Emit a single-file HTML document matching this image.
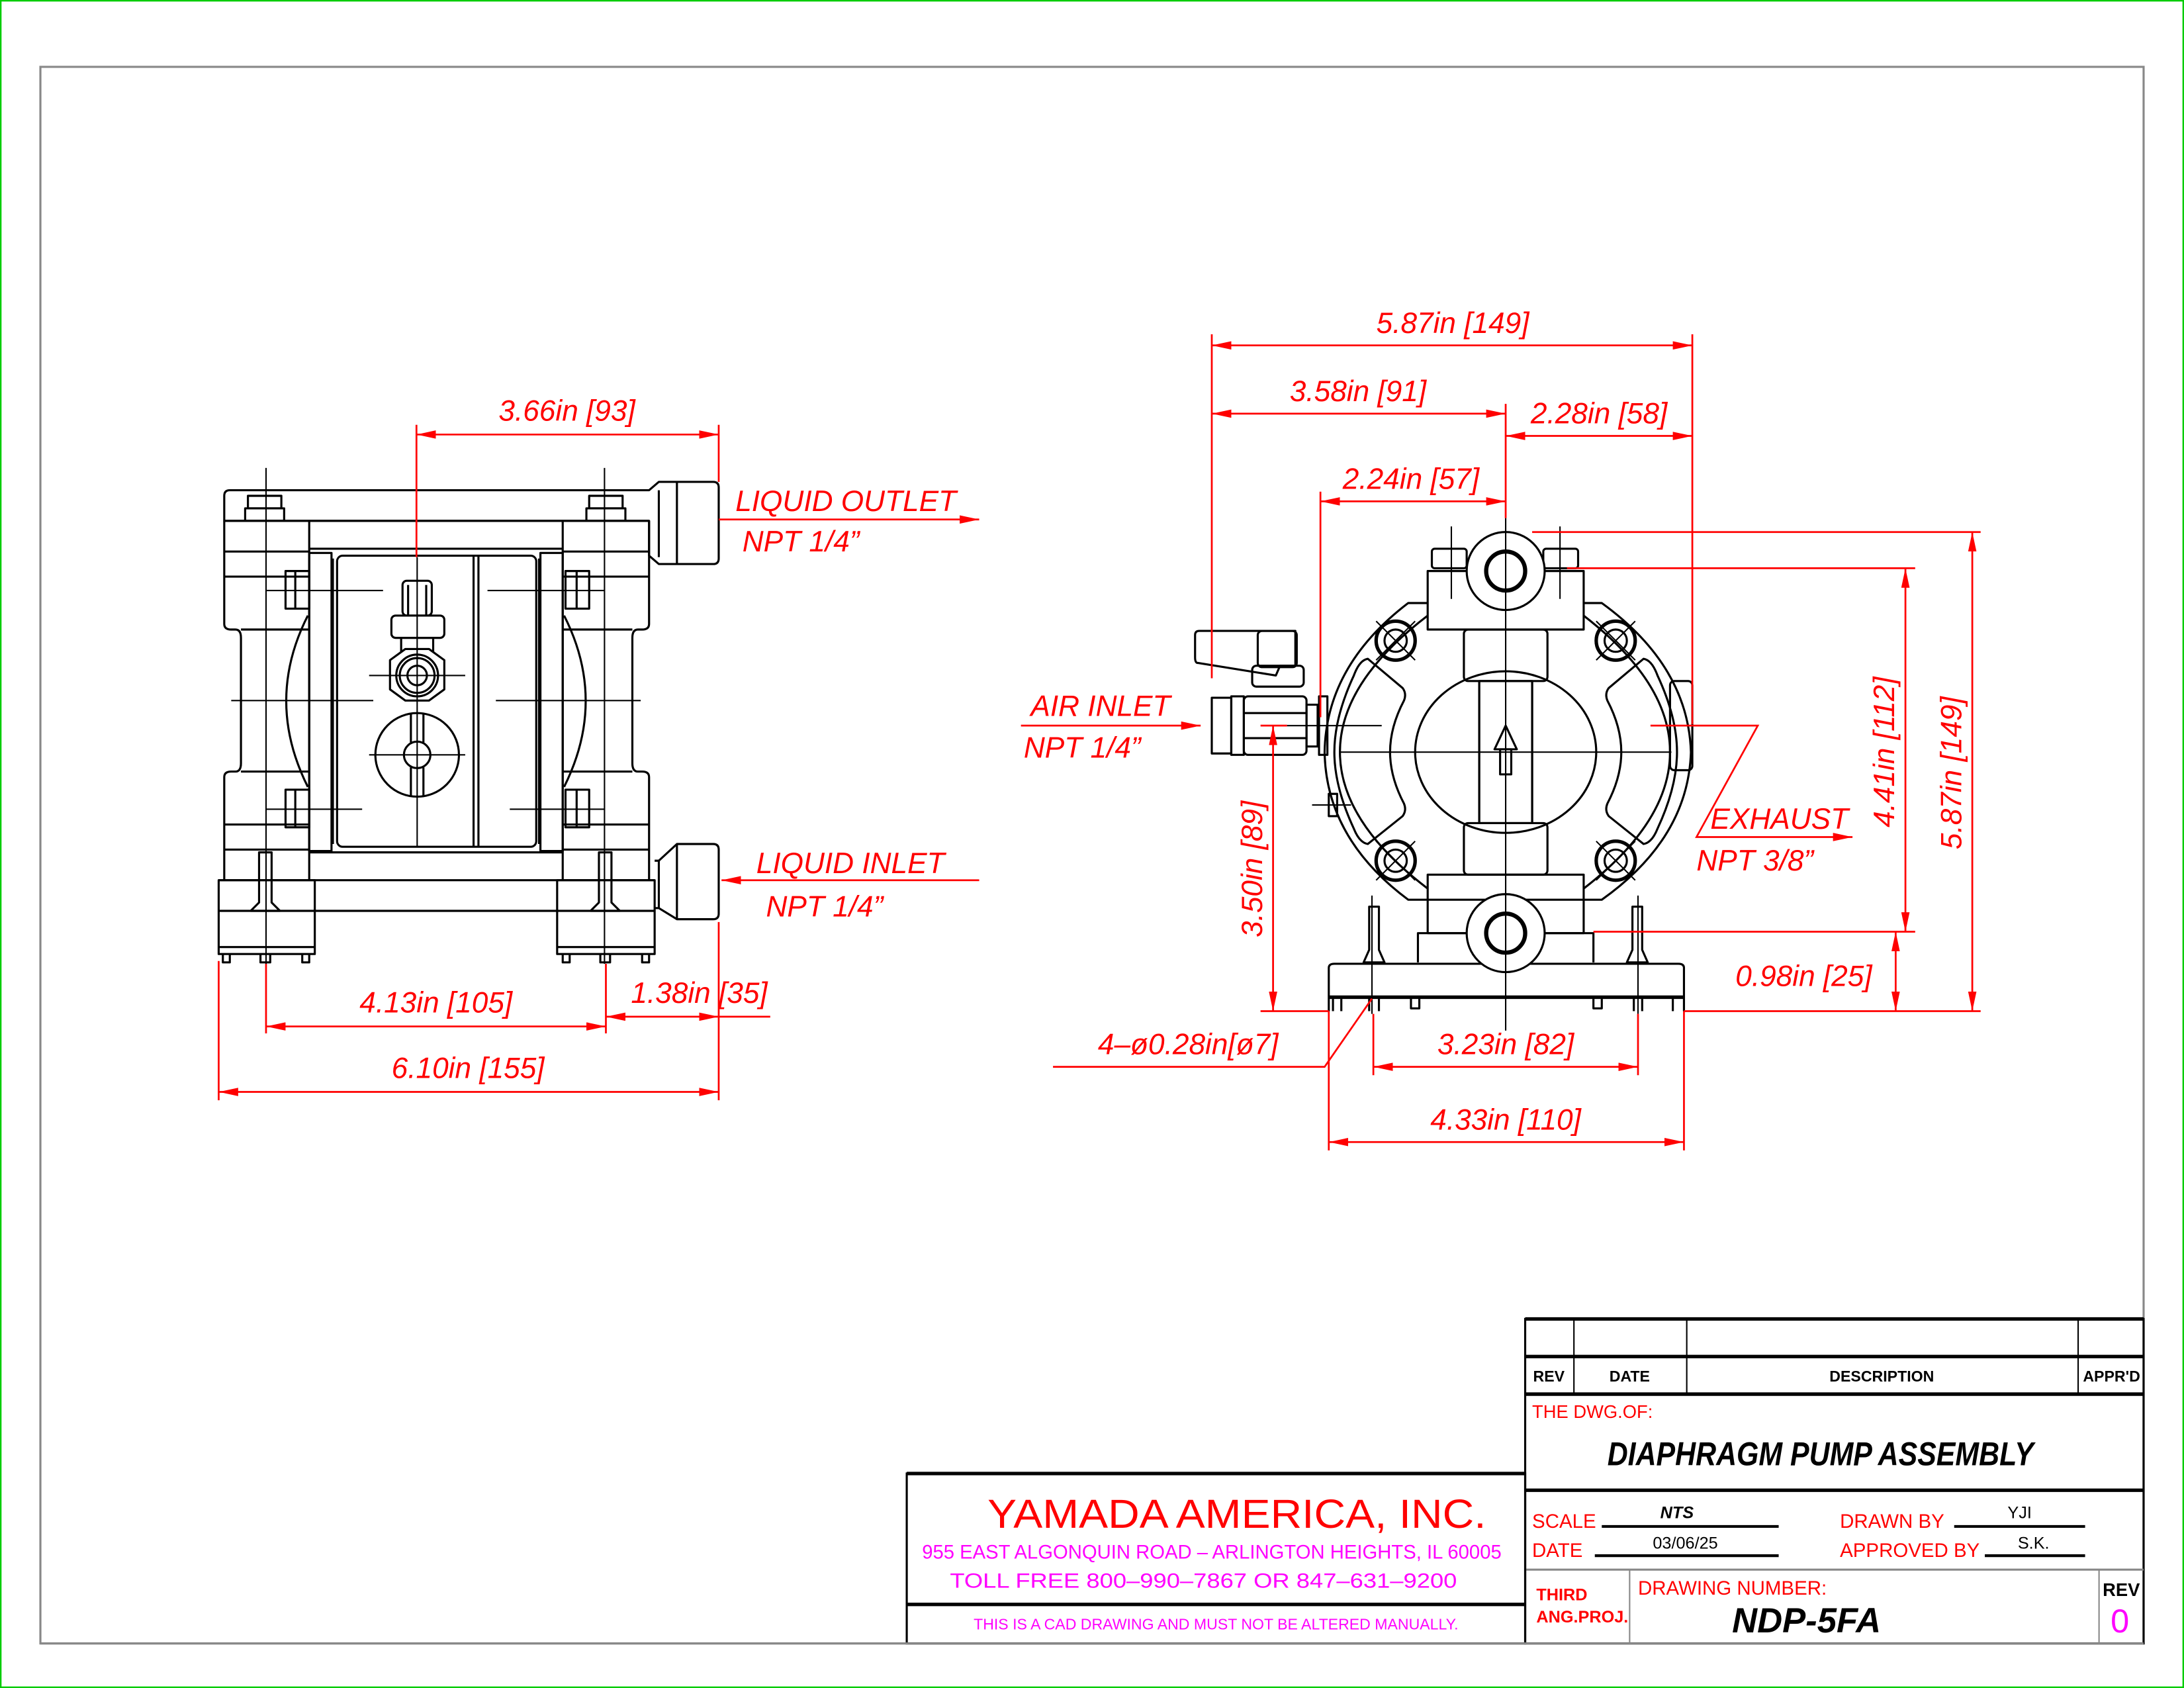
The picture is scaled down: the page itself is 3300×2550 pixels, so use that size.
<!DOCTYPE html>
<html><head><meta charset="utf-8"><style>
html,body{margin:0;padding:0;background:#fff;}
svg{display:block;}
.k{fill:none;stroke:#000;stroke-width:1.5;stroke-linejoin:round}
.kt{fill:none;stroke:#000;stroke-width:1}
.r{fill:none;stroke:#f00;stroke-width:1.3}
.d{font-family:"Liberation Sans",sans-serif;font-style:italic;fill:#f00;font-size:21px}
.tb{font-family:"Liberation Sans",sans-serif;font-weight:bold;font-size:11px;fill:#000}
</style></head><body>
<svg width="3300" height="2550" viewBox="0 0 1568 1212" preserveAspectRatio="none" xmlns="http://www.w3.org/2000/svg">
<defs>
<marker id="a" viewBox="0 0 14 6" refX="14" refY="3" markerWidth="14" markerHeight="6" markerUnits="userSpaceOnUse" orient="auto-start-reverse"><path d="M0,0 L14,3 L0,6 Z" fill="#f00"/></marker>
</defs>
<rect x="0.5" y="0.5" width="1567" height="1211" fill="none" stroke="#0c0" stroke-width="1.2"/>
<rect x="29" y="48" width="1510" height="1132" fill="none" stroke="#888" stroke-width="1.5"/>

<!-- ================= LEFT VIEW ================= -->
<g class="k">
<!-- top bar -->
<path d="M161,374 L161,356 Q161,352 165,352 L466,352 L473,346 L512,346 Q516,346 516,350 L516,401 Q516,405 512,405 L473,405 L466,399 L466,374 Z"/>
<line x1="161" y1="374" x2="466" y2="374"/>
<line x1="473" y1="352" x2="473" y2="400"/><line x1="486" y1="346" x2="486" y2="405"/>
<!-- left column -->
<path d="M161,374 L161,448 Q161,452 166,452 L169,452 Q173,452 173,458 L173,548 Q173,554 169,554 L166,554 Q161,554 161,558 L161,632"/>
<line x1="222" y1="374" x2="222" y2="632"/>
<line x1="161" y1="396" x2="222" y2="396"/><line x1="161" y1="414" x2="222" y2="414"/>
<line x1="173" y1="452" x2="222" y2="452"/><line x1="173" y1="554" x2="222" y2="554"/>
<line x1="161" y1="592" x2="222" y2="592"/><line x1="161" y1="610" x2="222" y2="610"/>
<!-- right column -->
<path d="M466,374 L466,448 Q466,452 461,452 L458,452 Q454,452 454,458 L454,548 Q454,554 458,554 L461,554 Q466,554 466,558 L466,632"/>
<line x1="404" y1="374" x2="404" y2="632"/>
<line x1="404" y1="396" x2="466" y2="396"/><line x1="404" y1="414" x2="466" y2="414"/>
<line x1="404" y1="452" x2="454" y2="452"/><line x1="404" y1="554" x2="454" y2="554"/>
<line x1="404" y1="592" x2="466" y2="592"/><line x1="404" y1="610" x2="466" y2="610"/>
<!-- center -->
<line x1="222" y1="394" x2="404" y2="394"/><line x1="222" y1="612" x2="404" y2="612"/>
<rect x="222" y="397" width="16" height="214"/><rect x="388" y="397" width="16" height="214"/>
<rect x="242" y="399" width="143" height="209" rx="4"/>
<line x1="340" y1="399" x2="340" y2="608"/><line x1="343.5" y1="399" x2="343.5" y2="608"/>
<line x1="239" y1="401" x2="239" y2="606"/><line x1="387" y1="401" x2="387" y2="606"/>
<!-- diaphragm arcs -->
<path d="M221,442 Q190,503 221,565"/><path d="M405,442 Q436,503 405,565"/>
<!-- bolts -->
<rect x="205" y="410" width="17" height="27"/><line x1="212" y1="410" x2="212" y2="437"/>
<rect x="205" y="567" width="17" height="27"/><line x1="212" y1="567" x2="212" y2="594"/>
<rect x="406" y="410" width="17" height="27"/><line x1="414" y1="410" x2="414" y2="437"/>
<rect x="406" y="567" width="17" height="27"/><line x1="414" y1="567" x2="414" y2="594"/>
<rect x="178" y="356" width="24" height="9"/><rect x="176" y="365" width="28" height="9"/>
<rect x="423" y="356" width="24" height="9"/><rect x="421" y="365" width="28" height="9"/>
<!-- fitting -->
<rect x="289" y="417" width="21" height="25" rx="3"/><line x1="293" y1="420" x2="293" y2="442"/><line x1="306" y1="420" x2="306" y2="442"/>
<rect x="281" y="442" width="38" height="16" rx="3"/>
<line x1="288" y1="458" x2="288" y2="468"/><line x1="311" y1="458" x2="311" y2="468"/>
<polygon points="291,466 308,466 319,474 319,495 308,503 291,503 280,495 280,474"/>
<circle cx="299.5" cy="485" r="15"/><circle cx="299.5" cy="485" r="12.5"/><circle cx="299.5" cy="485" r="7"/>
<circle cx="299.5" cy="542" r="30"/><circle cx="299.5" cy="542" r="9.5"/>
<line x1="295" y1="512" x2="295" y2="533"/><line x1="304" y1="512" x2="304" y2="533"/>
<line x1="295" y1="551" x2="295" y2="572"/><line x1="304" y1="551" x2="304" y2="572"/>
<!-- bottom -->
<line x1="157" y1="632" x2="470" y2="632"/><line x1="226" y1="654" x2="400" y2="654"/>
<rect x="157" y="632" width="69" height="53"/><rect x="400" y="632" width="70" height="53"/>
<line x1="157" y1="654" x2="226" y2="654"/><line x1="400" y1="654" x2="470" y2="654"/>
<line x1="157" y1="680" x2="226" y2="680"/><line x1="400" y1="680" x2="470" y2="680"/>
<path d="M160,685 V691 H165 V685 M187,685 V691 H194 V685 M217,685 V691 H222 V685"/>
<path d="M404,685 V691 H409 V685 M431,685 V691 H438 V685 M461,685 V691 H466 V685"/>
<path d="M186,612 H195 V648 L201,654 H180 L186,648 Z"/>
<path d="M430,612 H439 V648 L445,654 H424 L430,648 Z"/>
<!-- inlet pipe -->
<path d="M470,618 L473,618 L486,606 L512,606 Q516,606 516,610 L516,656 Q516,660 512,660 L486,660 L473,652 L470,652"/>
<line x1="473" y1="618" x2="473" y2="652"/><line x1="486" y1="606" x2="486" y2="660"/>
</g>
<g class="kt">
<line x1="191" y1="336" x2="191" y2="692"/><line x1="434" y1="336" x2="434" y2="692"/>
<line x1="299.5" y1="400" x2="299.5" y2="608"/>
<line x1="166" y1="503" x2="268" y2="503"/><line x1="356" y1="503" x2="460" y2="503"/>
<line x1="191" y1="424" x2="275" y2="424"/><line x1="350" y1="424" x2="434" y2="424"/>
<line x1="191" y1="581" x2="260" y2="581"/><line x1="366" y1="581" x2="434" y2="581"/>
<line x1="265" y1="485" x2="334" y2="485"/><line x1="265" y1="542" x2="334" y2="542"/>
</g>

<!-- left view dims -->
<g class="r">
<line x1="299" y1="305" x2="299" y2="400"/><line x1="516" y1="305" x2="516" y2="346"/>
<line x1="299" y1="312" x2="516" y2="312" marker-start="url(#a)" marker-end="url(#a)"/>
<line x1="516" y1="373" x2="703" y2="373" marker-end="url(#a)"/>
<line x1="703" y1="632" x2="518" y2="632" marker-end="url(#a)"/>
<line x1="191" y1="692" x2="191" y2="742"/><line x1="435" y1="692" x2="435" y2="742"/>
<line x1="157" y1="690" x2="157" y2="790"/><line x1="516" y1="662" x2="516" y2="790"/>
<line x1="191" y1="737" x2="435" y2="737" marker-start="url(#a)" marker-end="url(#a)"/>
<line x1="435" y1="730" x2="516" y2="730" marker-start="url(#a)" marker-end="url(#a)"/>
<line x1="516" y1="730" x2="553" y2="730"/>
<line x1="157" y1="784" x2="516" y2="784" marker-start="url(#a)" marker-end="url(#a)"/>
</g>
<text class="d" x="407" y="302" text-anchor="middle">3.66in [93]</text>
<text class="d" x="528" y="367">LIQUID OUTLET</text>
<text class="d" x="533" y="396">NPT 1/4”</text>
<text class="d" x="543" y="627">LIQUID INLET</text>
<text class="d" x="550" y="658">NPT 1/4”</text>
<text class="d" x="313" y="727" text-anchor="middle">4.13in [105]</text>
<text class="d" x="502" y="720" text-anchor="middle">1.38in [35]</text>
<text class="d" x="336" y="774" text-anchor="middle">6.10in [155]</text>

<!-- ================= RIGHT VIEW ================= -->
<g class="k">
<!-- body -->
<path d="M1011,433 L1150,433 Q1212,478 1214,540 Q1212,602 1150,646 L1011,646 Q952,602 951,540 Q952,478 1011,433 Z"/>
<path d="M1025,442 Q962,490 962,540 Q962,590 1025,638"/>
<path d="M1137,442 Q1199,490 1199,540 Q1199,590 1137,638"/>
<!-- side cavities -->
<path d="M982,473 Q976,474 972,485 Q958,515 958,540 Q958,565 972,595 Q976,605 982,606 L1007,586 Q1010,582 1008,577 Q998,558 998,540 Q998,522 1008,503 Q1010,498 1007,494 Z"/>
<path d="M1180,473 Q1186,474 1190,485 Q1204,515 1204,540 Q1204,565 1190,595 Q1186,605 1180,606 L1155,586 Q1152,582 1154,577 Q1164,558 1164,540 Q1164,522 1154,503 Q1152,498 1155,494 Z"/>
<!-- diaphragm -->
<ellipse cx="1081" cy="540" rx="65" ry="58"/>
<rect x="1062" y="489" width="38" height="102" fill="#fff"/>
<line x1="1062" y1="489" x2="1062" y2="591"/><line x1="1100" y1="489" x2="1100" y2="591"/>
<rect x="1051" y="452" width="60" height="37" rx="3"/>
<rect x="1051" y="591" width="60" height="37" rx="3"/>
<path d="M1081,521 L1073,538 L1089,538 Z"/><rect x="1077" y="538" width="8" height="18"/>
<!-- top block -->
<rect x="1025" y="410" width="112" height="42" fill="#fff"/>
<rect x="1028" y="394" width="25" height="14" rx="2"/><rect x="1108" y="394" width="25" height="14" rx="2"/>
<ellipse cx="1081" cy="410" rx="28" ry="28" fill="#fff"/>
<circle cx="1081" cy="410" r="14" stroke-width="3"/>
<!-- bottom block -->
<rect x="1025" y="628" width="112" height="42"/>
<path d="M1018,691 L1018,670 L1144,670 L1144,691"/>
<path d="M954,726 L954,695 Q954,692 958,692 L1205,692 Q1209,692 1209,695 L1209,726"/>
<line x1="954" y1="716" x2="1209" y2="716" stroke-width="2.5"/>
<path d="M957,716 V726 M963,716 V726 M983,716 V726 M990,716 V726 M1013,716 V724 H1019 V716 M1144,716 V724 H1150 V716 M1173,716 V726 M1179,716 V726 M1201,716 V726"/>
<ellipse cx="1081" cy="670" rx="28" ry="28" fill="#fff"/>
<circle cx="1081" cy="670" r="14" stroke-width="3"/>
<!-- foot screws -->
<path d="M983,651 H990 V682 L994,691 H979 L983,682 Z"/><path d="M1172,651 H1179 V682 L1183,691 H1168 L1172,682 Z"/>
<!-- corner bolts -->
<circle cx="1002" cy="460" r="14" stroke-width="2.5"/><circle cx="1002" cy="460" r="8"/>
<circle cx="1160" cy="460" r="14" stroke-width="2.5"/><circle cx="1160" cy="460" r="8"/>
<circle cx="1002" cy="618" r="14" stroke-width="2.5"/><circle cx="1002" cy="618" r="8"/>
<circle cx="1160" cy="618" r="14" stroke-width="2.5"/><circle cx="1160" cy="618" r="8"/>
<!-- air valve -->
<path d="M858,456 Q858,453 861,453 L930,453 L930,478 L919,478 L916,485 L860,476 Q858,476 858,472 Z"/>
<rect x="903" y="453" width="28" height="26" rx="3"/>
<rect x="899" y="478" width="37" height="15" rx="3"/>
<rect x="870" y="501" width="14" height="40"/><rect x="884" y="500" width="9" height="42"/>
<rect x="893" y="500" width="45" height="42" rx="3"/>
<line x1="893" y1="512" x2="938" y2="512"/><line x1="893" y1="530" x2="938" y2="530"/>
<rect x="938" y="506" width="8" height="30"/>
<rect x="947" y="500" width="6" height="42"/>
<rect x="1199" y="489" width="16" height="64" rx="3"/>
<rect x="954" y="570" width="6" height="16"/>
</g>
<g class="kt">
<line x1="1081" y1="372" x2="1081" y2="740"/>
<line x1="962" y1="540" x2="1200" y2="540"/>
<line x1="924" y1="521" x2="992" y2="521"/><line x1="1185" y1="521" x2="1215" y2="521"/>
<line x1="942" y1="578" x2="970" y2="578"/>
<line x1="985" y1="643" x2="985" y2="728"/><line x1="1176" y1="643" x2="1176" y2="728"/>
<line x1="1042" y1="378" x2="1042" y2="430"/><line x1="1120" y1="378" x2="1120" y2="430"/>
<line x1="988" y1="446" x2="1016" y2="474"/><line x1="1016" y1="446" x2="988" y2="474"/>
<line x1="1146" y1="446" x2="1174" y2="474"/><line x1="1174" y1="446" x2="1146" y2="474"/>
<line x1="988" y1="604" x2="1016" y2="632"/><line x1="1016" y1="604" x2="988" y2="632"/>
<line x1="1146" y1="604" x2="1174" y2="632"/><line x1="1174" y1="604" x2="1146" y2="632"/>
</g>

<!-- right view dims -->
<g class="r">
<line x1="870" y1="240" x2="870" y2="487"/><line x1="1215" y1="240" x2="1215" y2="520"/>
<line x1="870" y1="248" x2="1215" y2="248" marker-start="url(#a)" marker-end="url(#a)"/>
<line x1="870" y1="297" x2="1081" y2="297" marker-start="url(#a)" marker-end="url(#a)"/>
<line x1="1081" y1="290" x2="1081" y2="372"/>
<line x1="1081" y1="313" x2="1215" y2="313" marker-start="url(#a)" marker-end="url(#a)"/>
<line x1="948" y1="353" x2="948" y2="515"/>
<line x1="948" y1="360" x2="1081" y2="360" marker-start="url(#a)" marker-end="url(#a)"/>
<line x1="733" y1="521" x2="862" y2="521" marker-end="url(#a)"/>
<path d="M1185,521 L1262,521 L1218,601 L1330,601" marker-end="url(#a)"/>
<line x1="905" y1="521" x2="924" y2="521"/>
<line x1="914" y1="521" x2="914" y2="726" marker-start="url(#a)" marker-end="url(#a)"/>
<line x1="905" y1="726" x2="954" y2="726"/>
<line x1="1125" y1="408" x2="1375" y2="408"/><line x1="1144" y1="669" x2="1375" y2="669"/>
<line x1="1368" y1="408" x2="1368" y2="669" marker-start="url(#a)" marker-end="url(#a)"/>
<line x1="1100" y1="382" x2="1422" y2="382"/><line x1="1209" y1="726" x2="1422" y2="726"/>
<line x1="1416" y1="382" x2="1416" y2="726" marker-start="url(#a)" marker-end="url(#a)"/>
<line x1="1361" y1="669" x2="1361" y2="726" marker-start="url(#a)" marker-end="url(#a)"/>
<path d="M756,766 L951,766 L985,717"/>
<line x1="986" y1="728" x2="986" y2="772"/><line x1="1176" y1="728" x2="1176" y2="772"/>
<line x1="986" y1="766" x2="1176" y2="766" marker-start="url(#a)" marker-end="url(#a)"/>
<line x1="954" y1="726" x2="954" y2="826"/><line x1="1209" y1="726" x2="1209" y2="826"/>
<line x1="954" y1="820" x2="1209" y2="820" marker-start="url(#a)" marker-end="url(#a)"/>
</g>
<text class="d" x="1043" y="239" text-anchor="middle">5.87in [149]</text>
<text class="d" x="975" y="288" text-anchor="middle">3.58in [91]</text>
<text class="d" x="1148" y="304" text-anchor="middle">2.28in [58]</text>
<text class="d" x="1013" y="351" text-anchor="middle">2.24in [57]</text>
<text class="d" x="740" y="514">AIR INLET</text>
<text class="d" x="735" y="544">NPT 1/4”</text>
<text class="d" x="1228" y="595">EXHAUST</text>
<text class="d" x="1218" y="625">NPT 3/8”</text>
<text class="d" x="0" y="0" text-anchor="middle" transform="translate(906,624) rotate(-90)">3.50in [89]</text>
<text class="d" x="0" y="0" text-anchor="middle" transform="translate(1360,540) rotate(-90)">4.41in [112]</text>
<text class="d" x="0" y="0" text-anchor="middle" transform="translate(1408,555) rotate(-90)">5.87in [149]</text>
<text class="d" x="1295" y="708" text-anchor="middle">0.98in [25]</text>
<text class="d" x="853" y="757" text-anchor="middle">4–ø0.28in[ø7]</text>
<text class="d" x="1081" y="757" text-anchor="middle">3.23in [82]</text>
<text class="d" x="1081" y="811" text-anchor="middle">4.33in [110]</text>

<!-- ================= TITLE BLOCK ================= -->
<g fill="none" stroke="#000">
<rect x="1095" y="947" width="444" height="233" stroke-width="1.5"/>
<line x1="1095" y1="947" x2="1539" y2="947" stroke-width="2.5"/>
<line x1="1095" y1="974" x2="1539" y2="974" stroke-width="2.5"/>
<line x1="1095" y1="1001" x2="1539" y2="1001" stroke-width="2.5"/>
<line x1="1095" y1="1070" x2="1539" y2="1070" stroke-width="2.5"/>
<line x1="1095" y1="1127" x2="1539" y2="1127" stroke="#888" stroke-width="1.5"/>
<line x1="1130" y1="947" x2="1130" y2="1001"/><line x1="1211" y1="947" x2="1211" y2="1001"/><line x1="1492" y1="947" x2="1492" y2="1001"/>
<line x1="1170" y1="1127" x2="1170" y2="1180" stroke="#888"/><line x1="1507" y1="1127" x2="1507" y2="1180" stroke="#888"/>
<rect x="651" y="1058" width="444" height="122" stroke-width="1.5"/>
<line x1="651" y1="1058" x2="1095" y2="1058" stroke-width="2.5"/>
<line x1="651" y1="1152" x2="1095" y2="1152" stroke-width="2.5"/>
<line x1="1150" y1="1096" x2="1277" y2="1096" stroke-width="2"/>
<line x1="1145" y1="1117" x2="1277" y2="1117" stroke-width="2"/>
<line x1="1403" y1="1096" x2="1497" y2="1096" stroke-width="2"/>
<line x1="1425" y1="1117" x2="1497" y2="1117" stroke-width="2"/>
</g>
<line x1="1539" y1="1180" x2="29" y2="1180" stroke="#888" stroke-width="1.5"/>
<text class="tb" x="1112" y="992" text-anchor="middle">REV</text>
<text class="tb" x="1170" y="992" text-anchor="middle">DATE</text>
<text class="tb" x="1351" y="992" text-anchor="middle">DESCRIPTION</text>
<text class="tb" x="1516" y="992" text-anchor="middle" font-size="10">APPR'D</text>
<text x="1100" y="1018" font-family="Liberation Sans,sans-serif" font-size="13" fill="#f00">THE DWG.OF:</text>
<text x="1307" y="1052" text-anchor="middle" font-family="Liberation Sans,sans-serif" font-size="24" font-weight="bold" font-style="italic" fill="#000" textLength="306" lengthAdjust="spacingAndGlyphs">DIAPHRAGM PUMP ASSEMBLY</text>
<text x="1100" y="1097" font-family="Liberation Sans,sans-serif" font-size="14" fill="#f00">SCALE</text>
<text x="1100" y="1118" font-family="Liberation Sans,sans-serif" font-size="14" fill="#f00">DATE</text>
<text x="1204" y="1090" text-anchor="middle" font-family="Liberation Sans,sans-serif" font-size="12" font-weight="bold" font-style="italic" fill="#000">NTS</text>
<text x="1210" y="1112" text-anchor="middle" font-family="Liberation Sans,sans-serif" font-size="12" fill="#000">03/06/25</text>
<text x="1321" y="1097" font-family="Liberation Sans,sans-serif" font-size="14" fill="#f00">DRAWN BY</text>
<text x="1321" y="1118" font-family="Liberation Sans,sans-serif" font-size="14" fill="#f00">APPROVED BY</text>
<text x="1450" y="1090" text-anchor="middle" font-family="Liberation Sans,sans-serif" font-size="12" fill="#000">YJI</text>
<text x="1460" y="1112" text-anchor="middle" font-family="Liberation Sans,sans-serif" font-size="12" fill="#000">S.K.</text>
<text x="1103" y="1149" font-family="Liberation Sans,sans-serif" font-size="12" font-weight="bold" fill="#f00">THIRD</text>
<text x="1103" y="1165" font-family="Liberation Sans,sans-serif" font-size="12" font-weight="bold" fill="#f00">ANG.PROJ.</text>
<text x="1176" y="1145" font-family="Liberation Sans,sans-serif" font-size="14" fill="#f00">DRAWING NUMBER:</text>
<text x="1297" y="1172" text-anchor="middle" font-family="Liberation Sans,sans-serif" font-size="25" font-weight="bold" font-style="italic" fill="#000">NDP-5FA</text>
<text x="1523" y="1146" text-anchor="middle" font-family="Liberation Sans,sans-serif" font-size="13" font-weight="bold" fill="#000">REV</text>
<text x="1522" y="1172" text-anchor="middle" font-family="Liberation Sans,sans-serif" font-size="24" fill="#f0f">0</text>
<text x="888" y="1097" text-anchor="middle" font-family="Liberation Sans,sans-serif" font-size="29" fill="#f00" textLength="358" lengthAdjust="spacingAndGlyphs">YAMADA  AMERICA,  INC.</text>
<text x="870" y="1119" text-anchor="middle" font-family="Liberation Sans,sans-serif" font-size="14" fill="#f0f" textLength="416" lengthAdjust="spacingAndGlyphs">955  EAST  ALGONQUIN  ROAD  –  ARLINGTON  HEIGHTS,  IL  60005</text>
<text x="864" y="1140" text-anchor="middle" font-family="Liberation Sans,sans-serif" font-size="15" fill="#f0f" textLength="364" lengthAdjust="spacingAndGlyphs">TOLL  FREE  800–990–7867  OR  847–631–9200</text>
<text x="873" y="1170" text-anchor="middle" font-family="Liberation Sans,sans-serif" font-size="11" fill="#f0f" textLength="348" lengthAdjust="spacingAndGlyphs">THIS IS A CAD DRAWING AND MUST NOT BE ALTERED MANUALLY.</text>
</svg>
</body></html>
